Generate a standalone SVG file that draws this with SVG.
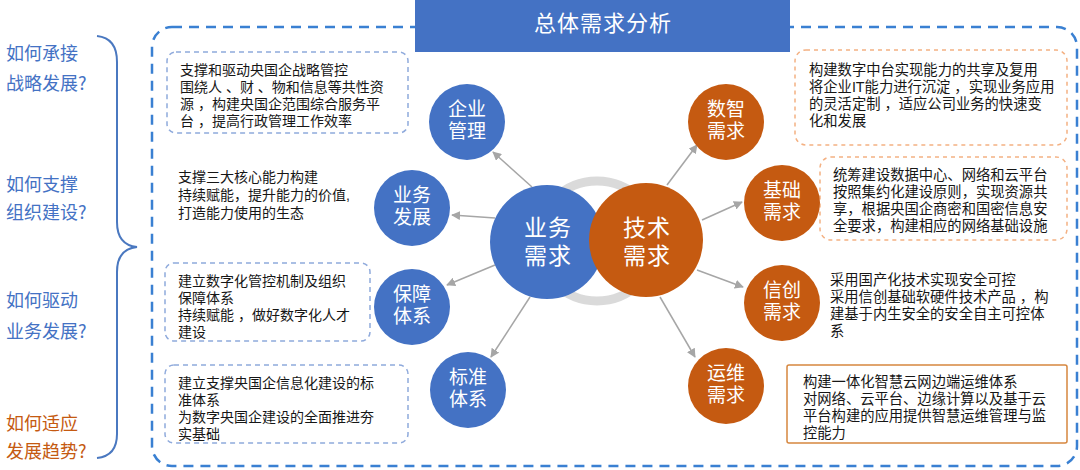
<svg xmlns="http://www.w3.org/2000/svg" width="1080" height="470" viewBox="0 0 1080 470">
<defs>
<style>
.q{font-family:"Noto Sans CJK SC","Noto Sans",sans-serif;font-size:18px;fill:#4472c4}
.qo{fill:#c55a11}
.t{font-family:"Liberation Sans","Noto Sans CJK SC",sans-serif;font-size:14px;fill:#161616}
.tr{font-size:14.3px}
.ct{font-family:"Liberation Sans","Noto Sans CJK SC",sans-serif;font-size:19px;fill:#fff;text-anchor:middle}
.cb{font-family:"Liberation Sans","Noto Sans CJK SC",sans-serif;font-size:23px;fill:#fff;text-anchor:middle;letter-spacing:1px}
.blue{fill:#4472c4}
.orange{fill:#c55a11}
.bbox{fill:none;stroke:#8faadc;stroke-width:1.5;stroke-dasharray:5 4}
.obox{fill:none;stroke:#f4b183;stroke-width:1.5;stroke-dasharray:4 4}
.conn line{stroke:#a6a6a6;stroke-width:1.5;marker-end:url(#ah)}
</style>
<marker id="ah" viewBox="0 0 10 10" refX="9" refY="5" markerWidth="6" markerHeight="6" orient="auto">
<path d="M0,0 L10,5 L0,10 z" fill="#a6a6a6"/>
</marker>
</defs>
<rect width="1080" height="470" fill="#fff"/>

<g id="frame">
<rect x="152" y="27" width="925" height="439" rx="20" fill="none" stroke="#3a80d2" stroke-width="2.5" stroke-dasharray="10 7"/>
</g>

<g id="title">
<rect x="415" y="0" width="375" height="52" fill="#4472c4"/>
<text x="603" y="31" font-family="Noto Sans CJK SC, Noto Sans, sans-serif" font-size="22" fill="#fff" text-anchor="middle" letter-spacing="1">总体需求分析</text>
</g>

<g id="questions">
<text class="q" x="6" y="60">如何承接<tspan x="6" dy="30">战略发展?</tspan></text>
<text class="q" x="6" y="191">如何支撑<tspan x="6" dy="28">组织建设?</tspan></text>
<text class="q" x="6" y="307">如何驱动<tspan x="6" dy="31">业务发展?</tspan></text>
<text class="q qo" x="6" y="430">如何适应<tspan x="6" dy="28">发展趋势?</tspan></text>
</g>

<g id="brace">
<path d="M97,36 Q117,38 117,62 L117,222 Q117,245 137,247 Q117,249 117,272 L117,434 Q117,456 97,458" fill="none" stroke="#4a78c0" stroke-width="2"/>
</g>

<g id="desc-l1">
<rect class="bbox" x="167" y="52" width="241" height="81" rx="9"/>
<text class="t" x="180" y="75">支撑和驱动央国企战略管控<tspan x="180" dy="17">围绕人 、财 、物和信息等共性资</tspan><tspan x="180" dy="17">源 ，构建央国企范围综合服务平</tspan><tspan x="180" dy="17">台 ，提高行政管理工作效率</tspan></text>
</g>
<g id="desc-l2">
<text class="t" x="178" y="182">支撑三大核心能力构建<tspan x="178" dy="18">持续赋能，提升能力的价值,</tspan><tspan x="178" dy="18">打造能力使用的生态</tspan></text>
</g>
<g id="desc-l3">
<rect class="bbox" x="165" y="263" width="205" height="78" rx="9"/>
<text class="t" x="178" y="286">建立数字化管控机制及组织<tspan x="178" dy="17">保障体系</tspan><tspan x="178" dy="17">持续赋能 ，做好数字化人才</tspan><tspan x="178" dy="17">建设</tspan></text>
</g>
<g id="desc-l4">
<rect class="bbox" x="165" y="365" width="243" height="78" rx="9"/>
<text class="t" x="178" y="388">建立支撑央国企信息化建设的标<tspan x="178" dy="17">准体系</tspan><tspan x="178" dy="17">为数字央国企建设的全面推进夯</tspan><tspan x="178" dy="17">实基础</tspan></text>
</g>

<g id="desc-r1">
<rect class="obox" x="795" y="50" width="272" height="95" rx="11"/>
<text class="t tr" x="809" y="75">构建数字中台实现能力的共享及复用<tspan x="809" dy="17">将企业IT能力进行沉淀 ，实现业务应用</tspan><tspan x="809" dy="17">的灵活定制 ，适应公司业务的快速变</tspan><tspan x="809" dy="17">化和发展</tspan></text>
</g>
<g id="desc-r2">
<rect class="obox" x="820" y="157" width="247" height="83" rx="11"/>
<text class="t tr" x="833" y="180">统筹建设数据中心、网络和云平台<tspan x="833" dy="17">按照集约化建设原则，实现资源共</tspan><tspan x="833" dy="17">享，根据央国企商密和国密信息安</tspan><tspan x="833" dy="17">全要求，构建相应的网络基础设施</tspan></text>
</g>
<g id="desc-r3">
<text class="t tr" x="830" y="285">采用国产化技术实现安全可控<tspan x="830" dy="17">采用信创基础软硬件技术产品 ，构</tspan><tspan x="830" dy="17">建基于内生安全的安全自主可控体</tspan><tspan x="830" dy="17">系</tspan></text>
</g>
<g id="desc-r4">
<rect x="787" y="365" width="280" height="78" fill="none" stroke="#d6873f" stroke-width="1.5" rx="2"/>
<text class="t tr" x="803" y="387">构建一体化智慧云网边端运维体系<tspan x="803" dy="17">对网络、云平台、边缘计算以及基于云</tspan><tspan x="803" dy="17">平台构建的应用提供智慧运维管理与监</tspan><tspan x="803" dy="17">控能力</tspan></text>
</g>

<g id="connectors" class="conn">
<line x1="532" y1="187" x2="493" y2="152"/>
<line x1="495" y1="218" x2="452" y2="215"/>
<line x1="495" y1="265" x2="447" y2="285"/>
<line x1="530" y1="297" x2="491" y2="357"/>
<line x1="667" y1="185" x2="697" y2="145"/>
<line x1="702" y1="220" x2="742" y2="202"/>
<line x1="697" y1="270" x2="743" y2="287"/>
<line x1="660" y1="297" x2="695" y2="357"/>
</g>

<g id="ring">
<circle cx="597" cy="241" r="60" fill="none" stroke="#dadada" stroke-width="9"/>
</g>

<g id="n-yewu-xuqiu">
<circle class="blue" cx="547" cy="242" r="57"/>
<text class="cb" x="548" y="236">业务<tspan x="548" dy="28">需求</tspan></text>
</g>
<g id="n-jishu-xuqiu">
<circle class="orange" cx="646" cy="240" r="57"/>
<text class="cb" x="647" y="236">技术<tspan x="647" dy="28">需求</tspan></text>
</g>

<g id="n-qiye">
<circle class="blue" cx="467" cy="122" r="38"/>
<text class="ct" x="467" y="116">企业<tspan x="467" dy="22">管理</tspan></text>
</g>
<g id="n-fazhan">
<circle class="blue" cx="412" cy="208" r="38"/>
<text class="ct" x="412" y="202">业务<tspan x="412" dy="22">发展</tspan></text>
</g>
<g id="n-baozhang">
<circle class="blue" cx="412" cy="307" r="38"/>
<text class="ct" x="412" y="301">保障<tspan x="412" dy="22">体系</tspan></text>
</g>
<g id="n-biaozhun">
<circle class="blue" cx="468" cy="390" r="38"/>
<text class="ct" x="468" y="384">标准<tspan x="468" dy="22">体系</tspan></text>
</g>
<g id="n-shuzhi">
<circle class="orange" cx="726" cy="122" r="38"/>
<text class="ct" x="726" y="116">数智<tspan x="726" dy="22">需求</tspan></text>
</g>
<g id="n-jichu">
<circle class="orange" cx="782" cy="203" r="38"/>
<text class="ct" x="782" y="197">基础<tspan x="782" dy="22">需求</tspan></text>
</g>
<g id="n-xinchuang">
<circle class="orange" cx="782" cy="303" r="38"/>
<text class="ct" x="782" y="297">信创<tspan x="782" dy="22">需求</tspan></text>
</g>
<g id="n-yunwei">
<circle class="orange" cx="726" cy="386" r="38"/>
<text class="ct" x="726" y="380">运维<tspan x="726" dy="22">需求</tspan></text>
</g>
</svg>
